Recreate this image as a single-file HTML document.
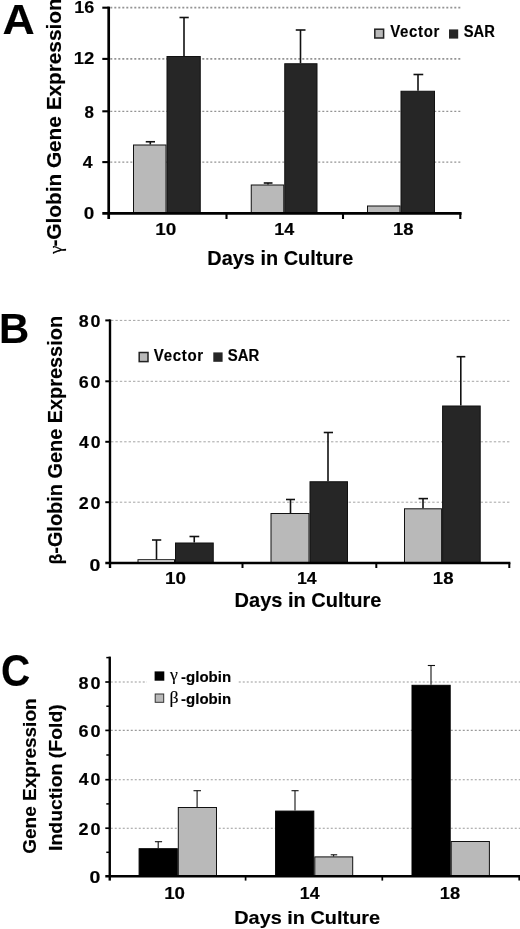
<!DOCTYPE html>
<html><head><meta charset="utf-8"><title>Globin gene expression</title>
<style>html,body{margin:0;padding:0;background:#fff}svg{display:block}text{white-space:pre;stroke:#000;stroke-width:0.15px;stroke-linejoin:round}</style></head>
<body><svg width="520" height="929" viewBox="0 0 520 929">
<rect width="520" height="929" fill="#fff"/>
<line x1="110.30" y1="162.10" x2="461.30" y2="162.10" stroke="#949494" stroke-width="1.3" stroke-dasharray="2 2"/>
<line x1="110.30" y1="111.30" x2="461.30" y2="111.30" stroke="#949494" stroke-width="1.3" stroke-dasharray="2 2"/>
<line x1="110.30" y1="58.90" x2="461.30" y2="58.90" stroke="#949494" stroke-width="1.8" stroke-dasharray="2 2"/>
<line x1="110.30" y1="7.70" x2="461.30" y2="7.70" stroke="#949494" stroke-width="1.8" stroke-dasharray="2 2"/>
<rect x="133.50" y="145.00" width="32.50" height="68.30" fill="#b9b9b9" stroke="#111" stroke-width="1"/>
<rect x="167.00" y="56.50" width="33.25" height="156.80" fill="#262626" stroke="#111" stroke-width="1"/>
<rect x="251.25" y="185.00" width="32.50" height="28.30" fill="#b9b9b9" stroke="#111" stroke-width="1"/>
<rect x="284.75" y="63.75" width="32.25" height="149.55" fill="#262626" stroke="#111" stroke-width="1"/>
<rect x="367.50" y="206.00" width="32.50" height="7.30" fill="#b9b9b9" stroke="#111" stroke-width="1"/>
<rect x="401.00" y="91.25" width="33.50" height="122.05" fill="#262626" stroke="#111" stroke-width="1"/>
<line x1="150.30" y1="141.75" x2="150.30" y2="144.50" stroke="#111" stroke-width="1.6" />
<line x1="145.75" y1="141.75" x2="155.00" y2="141.75" stroke="#111" stroke-width="1.6" />
<line x1="184.00" y1="17.50" x2="184.00" y2="56.00" stroke="#111" stroke-width="1.6" />
<line x1="179.50" y1="17.50" x2="188.75" y2="17.50" stroke="#111" stroke-width="1.6" />
<line x1="268.00" y1="183.00" x2="268.00" y2="184.50" stroke="#111" stroke-width="1.6" />
<line x1="263.75" y1="183.00" x2="272.50" y2="183.00" stroke="#111" stroke-width="1.6" />
<line x1="300.50" y1="30.00" x2="300.50" y2="63.25" stroke="#111" stroke-width="1.6" />
<line x1="295.75" y1="30.00" x2="305.50" y2="30.00" stroke="#111" stroke-width="1.6" />
<line x1="418.00" y1="74.50" x2="418.00" y2="90.75" stroke="#111" stroke-width="1.6" />
<line x1="413.50" y1="74.50" x2="423.25" y2="74.50" stroke="#111" stroke-width="1.6" />
<line x1="108.70" y1="6.60" x2="108.70" y2="219.00" stroke="#000" stroke-width="2.7" />
<line x1="102.30" y1="213.30" x2="461.60" y2="213.30" stroke="#000" stroke-width="2.7" />
<line x1="102.30" y1="162.10" x2="108.70" y2="162.10" stroke="#000" stroke-width="2.1" />
<line x1="102.30" y1="111.30" x2="108.70" y2="111.30" stroke="#000" stroke-width="2.1" />
<line x1="102.30" y1="58.90" x2="108.70" y2="58.90" stroke="#000" stroke-width="2.1" />
<line x1="102.30" y1="7.70" x2="108.70" y2="7.70" stroke="#000" stroke-width="2.1" />
<line x1="226.50" y1="213.30" x2="226.50" y2="219.00" stroke="#000" stroke-width="2.1" />
<line x1="343.00" y1="213.30" x2="343.00" y2="219.00" stroke="#000" stroke-width="2.1" />
<line x1="460.30" y1="213.30" x2="460.30" y2="219.00" stroke="#000" stroke-width="2.1" />
<text transform="translate(2.48 33.60) scale(1.0333 1)" font-size="43.19" font-family="Liberation Sans, sans-serif" font-weight="bold" fill="#000">A</text>
<text transform="translate(74.13 12.89) scale(1.0935 1)" font-size="16.48" font-family="Liberation Sans, sans-serif" font-weight="bold" fill="#000">16</text>
<text transform="translate(73.70 64.35) scale(1.1073 1)" font-size="16.71" font-family="Liberation Sans, sans-serif" font-weight="bold" fill="#000">12</text>
<text transform="translate(84.59 117.79) scale(1.0298 1)" font-size="16.48" font-family="Liberation Sans, sans-serif" font-weight="bold" fill="#000">8</text>
<text transform="translate(82.73 167.90) scale(1.0472 1)" font-size="16.96" font-family="Liberation Sans, sans-serif" font-weight="bold" fill="#000">4</text>
<text transform="translate(83.74 218.59) scale(1.1498 1)" font-size="16.48" font-family="Liberation Sans, sans-serif" font-weight="bold" fill="#000">0</text>
<text transform="translate(155.16 235.04) scale(1.1632 1)" font-size="16.34" font-family="Liberation Sans, sans-serif" font-weight="bold" fill="#000">10</text>
<text transform="translate(274.23 235.20) scale(1.0695 1)" font-size="16.81" font-family="Liberation Sans, sans-serif" font-weight="bold" fill="#000">14</text>
<text transform="translate(392.90 235.04) scale(1.1337 1)" font-size="16.34" font-family="Liberation Sans, sans-serif" font-weight="bold" fill="#000">18</text>
<text transform="translate(207.31 264.60) scale(1.0267 1)" font-size="19.40" font-family="Liberation Sans, sans-serif" font-weight="bold" fill="#000">Days in Culture</text>
<text transform="translate(60.70 253.90) rotate(-90) scale(1.0240 1)" fill="#000"><tspan font-family="Liberation Serif, serif" font-size="18.50" dx="0.00" dy="1.40" font-weight="normal">γ</tspan><tspan font-family="Liberation Sans, sans-serif" font-weight="bold" font-size="20.30" dx="-1.00" dy="-1.40">-Globin Gene Expression</tspan></text>
<rect x="374.80" y="29.20" width="8.80" height="8.80" fill="#b9b9b9" stroke="#222" stroke-width="1.5"/>
<rect x="449.00" y="29.40" width="9.20" height="9.20" fill="#262626"/>
<text transform="translate(390.25 37.10) scale(0.9617 1)" font-size="15.60" letter-spacing="0.7" font-family="Liberation Sans, sans-serif" font-weight="bold" fill="#000">Vector</text>
<text transform="translate(463.66 37.10) scale(0.9460 1)" font-size="15.60" font-family="Liberation Sans, sans-serif" font-weight="bold" fill="#000">SAR</text>
<line x1="111.00" y1="502.20" x2="510.00" y2="502.20" stroke="#a4a4a4" stroke-width="1" stroke-dasharray="2.4 2"/>
<line x1="111.00" y1="441.80" x2="510.00" y2="441.80" stroke="#a4a4a4" stroke-width="1" stroke-dasharray="2.4 2"/>
<line x1="111.00" y1="381.30" x2="510.00" y2="381.30" stroke="#a4a4a4" stroke-width="1" stroke-dasharray="2.4 2"/>
<line x1="111.00" y1="320.40" x2="510.00" y2="320.40" stroke="#a4a4a4" stroke-width="1" stroke-dasharray="2.4 2"/>
<rect x="138.00" y="559.70" width="36.50" height="3.40" fill="#f4f4f4" stroke="#111" stroke-width="1"/>
<rect x="175.50" y="543.00" width="37.75" height="20.10" fill="#262626" stroke="#111" stroke-width="1"/>
<rect x="271.00" y="513.50" width="38.00" height="49.60" fill="#b9b9b9" stroke="#111" stroke-width="1"/>
<rect x="310.00" y="481.75" width="37.50" height="81.35" fill="#262626" stroke="#111" stroke-width="1"/>
<rect x="404.50" y="508.80" width="37.10" height="54.30" fill="#b9b9b9" stroke="#111" stroke-width="1"/>
<rect x="442.60" y="406.00" width="37.60" height="157.10" fill="#262626" stroke="#111" stroke-width="1"/>
<line x1="156.50" y1="540.00" x2="156.50" y2="559.50" stroke="#111" stroke-width="1.6" />
<line x1="152.00" y1="540.00" x2="161.25" y2="540.00" stroke="#111" stroke-width="1.6" />
<line x1="194.25" y1="536.50" x2="194.25" y2="542.50" stroke="#111" stroke-width="1.6" />
<line x1="189.50" y1="536.50" x2="199.25" y2="536.50" stroke="#111" stroke-width="1.6" />
<line x1="290.50" y1="499.50" x2="290.50" y2="513.00" stroke="#111" stroke-width="1.6" />
<line x1="286.00" y1="499.50" x2="295.00" y2="499.50" stroke="#111" stroke-width="1.6" />
<line x1="328.00" y1="432.50" x2="328.00" y2="481.25" stroke="#111" stroke-width="1.6" />
<line x1="323.75" y1="432.50" x2="333.00" y2="432.50" stroke="#111" stroke-width="1.6" />
<line x1="423.00" y1="498.60" x2="423.00" y2="508.30" stroke="#111" stroke-width="1.6" />
<line x1="418.60" y1="498.60" x2="428.00" y2="498.60" stroke="#111" stroke-width="1.6" />
<line x1="460.80" y1="356.70" x2="460.80" y2="405.50" stroke="#111" stroke-width="1.6" />
<line x1="456.60" y1="356.70" x2="465.30" y2="356.70" stroke="#111" stroke-width="1.6" />
<line x1="110.00" y1="319.40" x2="110.00" y2="568.00" stroke="#000" stroke-width="2.4" />
<line x1="105.30" y1="563.10" x2="510.40" y2="563.10" stroke="#000" stroke-width="2.5" />
<line x1="105.30" y1="502.20" x2="110.00" y2="502.20" stroke="#000" stroke-width="2.0" />
<line x1="105.30" y1="441.80" x2="110.00" y2="441.80" stroke="#000" stroke-width="2.0" />
<line x1="105.30" y1="381.30" x2="110.00" y2="381.30" stroke="#000" stroke-width="2.0" />
<line x1="105.30" y1="320.40" x2="110.00" y2="320.40" stroke="#000" stroke-width="2.0" />
<line x1="242.50" y1="563.10" x2="242.50" y2="568.00" stroke="#000" stroke-width="2.0" />
<line x1="376.30" y1="563.10" x2="376.30" y2="568.00" stroke="#000" stroke-width="2.0" />
<line x1="509.30" y1="563.10" x2="509.30" y2="568.00" stroke="#000" stroke-width="2.0" />
<text transform="translate(-1.02 342.90) scale(0.9811 1)" font-size="42.61" font-family="Liberation Sans, sans-serif" font-weight="bold" fill="#000">B</text>
<text transform="translate(78.76 326.88) scale(1.0294 1)" font-size="17.32" letter-spacing="1.8" font-family="Liberation Sans, sans-serif" font-weight="bold" fill="#000">80</text>
<text transform="translate(78.67 387.78) scale(1.0339 1)" font-size="17.32" letter-spacing="1.8" font-family="Liberation Sans, sans-serif" font-weight="bold" fill="#000">60</text>
<text transform="translate(79.04 448.28) scale(1.0161 1)" font-size="17.32" letter-spacing="1.8" font-family="Liberation Sans, sans-serif" font-weight="bold" fill="#000">40</text>
<text transform="translate(78.67 508.68) scale(1.0339 1)" font-size="17.32" letter-spacing="1.8" font-family="Liberation Sans, sans-serif" font-weight="bold" fill="#000">20</text>
<text transform="translate(89.62 570.78) scale(1.1302 1)" font-size="17.32" letter-spacing="1.8" font-family="Liberation Sans, sans-serif" font-weight="bold" fill="#000">0</text>
<text transform="translate(164.97 584.04) scale(1.1879 1)" font-size="15.92" font-family="Liberation Sans, sans-serif" font-weight="bold" fill="#000">10</text>
<text transform="translate(296.94 584.20) scale(1.0862 1)" font-size="16.38" font-family="Liberation Sans, sans-serif" font-weight="bold" fill="#000">14</text>
<text transform="translate(432.79 584.04) scale(1.1700 1)" font-size="15.92" font-family="Liberation Sans, sans-serif" font-weight="bold" fill="#000">18</text>
<text transform="translate(234.60 607.00) scale(1.0271 1)" font-size="19.50" font-family="Liberation Sans, sans-serif" font-weight="bold" fill="#000">Days in Culture</text>
<text transform="translate(61.90 564.60) rotate(-90) scale(1.0060 1)" fill="#000"><tspan font-family="Liberation Sans, sans-serif" font-weight="bold" font-size="17.60" dx="0.00" dy="0.20">β</tspan><tspan font-family="Liberation Sans, sans-serif" font-weight="bold" font-size="19.80" dx="0.06" dy="-0.20">-Globin Gene Expression</tspan></text>
<rect x="139.20" y="352.50" width="8.80" height="9.10" fill="#b9b9b9" stroke="#222" stroke-width="1.5"/>
<rect x="213.30" y="352.40" width="9.30" height="9.40" fill="#262626"/>
<text transform="translate(153.85 360.90) scale(0.9637 1)" font-size="15.60" letter-spacing="0.7" font-family="Liberation Sans, sans-serif" font-weight="bold" fill="#000">Vector</text>
<text transform="translate(227.75 360.90) scale(0.9584 1)" font-size="15.60" font-family="Liberation Sans, sans-serif" font-weight="bold" fill="#000">SAR</text>
<line x1="110.75" y1="828.20" x2="520.00" y2="828.20" stroke="#9a9a9a" stroke-width="1.1" stroke-dasharray="2 2"/>
<line x1="110.75" y1="779.70" x2="520.00" y2="779.70" stroke="#9a9a9a" stroke-width="1.1" stroke-dasharray="2 2"/>
<line x1="110.75" y1="730.40" x2="520.00" y2="730.40" stroke="#9a9a9a" stroke-width="1.1" stroke-dasharray="2 2"/>
<line x1="110.75" y1="682.00" x2="520.00" y2="682.00" stroke="#9a9a9a" stroke-width="1.1" stroke-dasharray="2 2"/>
<rect x="147.00" y="664.00" width="90.00" height="48.00" fill="#fff"/>
<rect x="139.10" y="848.70" width="38.20" height="27.60" fill="#000" stroke="#000" stroke-width="1"/>
<rect x="178.30" y="807.50" width="38.20" height="68.80" fill="#b9b9b9" stroke="#111" stroke-width="1"/>
<rect x="275.60" y="811.10" width="38.20" height="65.20" fill="#000" stroke="#000" stroke-width="1"/>
<rect x="314.80" y="856.90" width="37.90" height="19.40" fill="#b9b9b9" stroke="#111" stroke-width="1"/>
<rect x="412.00" y="685.30" width="38.20" height="191.00" fill="#000" stroke="#000" stroke-width="1"/>
<rect x="451.20" y="841.50" width="38.20" height="34.80" fill="#b9b9b9" stroke="#111" stroke-width="1"/>
<line x1="158.20" y1="841.70" x2="158.20" y2="848.20" stroke="#111" stroke-width="1.1" />
<line x1="154.90" y1="841.70" x2="162.10" y2="841.70" stroke="#111" stroke-width="1.1" />
<line x1="197.10" y1="790.70" x2="197.10" y2="807.00" stroke="#111" stroke-width="1.1" />
<line x1="193.50" y1="790.70" x2="201.00" y2="790.70" stroke="#111" stroke-width="1.1" />
<line x1="295.00" y1="790.70" x2="295.00" y2="810.60" stroke="#111" stroke-width="1.1" />
<line x1="291.50" y1="790.70" x2="298.60" y2="790.70" stroke="#111" stroke-width="1.1" />
<line x1="333.60" y1="854.80" x2="333.60" y2="856.40" stroke="#111" stroke-width="1.1" />
<line x1="330.70" y1="854.80" x2="337.20" y2="854.80" stroke="#111" stroke-width="1.1" />
<line x1="431.00" y1="665.50" x2="431.00" y2="684.80" stroke="#111" stroke-width="1.1" />
<line x1="427.80" y1="665.50" x2="435.00" y2="665.50" stroke="#111" stroke-width="1.1" />
<line x1="109.75" y1="656.60" x2="109.75" y2="880.60" stroke="#000" stroke-width="2.4" />
<line x1="105.30" y1="876.30" x2="520.00" y2="876.30" stroke="#000" stroke-width="2.4" />
<line x1="106.30" y1="852.30" x2="109.75" y2="852.30" stroke="#000" stroke-width="1.5" />
<line x1="105.30" y1="828.20" x2="109.75" y2="828.20" stroke="#000" stroke-width="1.7" />
<line x1="106.30" y1="803.90" x2="109.75" y2="803.90" stroke="#000" stroke-width="1.5" />
<line x1="105.30" y1="779.70" x2="109.75" y2="779.70" stroke="#000" stroke-width="1.7" />
<line x1="106.30" y1="755.00" x2="109.75" y2="755.00" stroke="#000" stroke-width="1.5" />
<line x1="105.30" y1="730.40" x2="109.75" y2="730.40" stroke="#000" stroke-width="1.7" />
<line x1="106.30" y1="706.20" x2="109.75" y2="706.20" stroke="#000" stroke-width="1.5" />
<line x1="105.30" y1="682.00" x2="109.75" y2="682.00" stroke="#000" stroke-width="1.7" />
<line x1="106.30" y1="657.60" x2="109.75" y2="657.60" stroke="#000" stroke-width="1.5" />
<line x1="245.60" y1="876.30" x2="245.60" y2="880.60" stroke="#000" stroke-width="1.7" />
<line x1="382.30" y1="876.30" x2="382.30" y2="880.60" stroke="#000" stroke-width="1.7" />
<line x1="519.20" y1="876.30" x2="519.20" y2="880.60" stroke="#000" stroke-width="1.7" />
<text transform="translate(0.98 685.86) scale(0.9177 1)" font-size="44.08" font-family="Liberation Sans, sans-serif" font-weight="bold" fill="#000">C</text>
<text transform="translate(78.56 688.58) scale(1.0395 1)" font-size="17.32" letter-spacing="1.8" font-family="Liberation Sans, sans-serif" font-weight="bold" fill="#000">80</text>
<text transform="translate(78.47 736.98) scale(1.0441 1)" font-size="17.32" letter-spacing="1.8" font-family="Liberation Sans, sans-serif" font-weight="bold" fill="#000">60</text>
<text transform="translate(78.83 785.08) scale(1.0261 1)" font-size="17.32" letter-spacing="1.8" font-family="Liberation Sans, sans-serif" font-weight="bold" fill="#000">40</text>
<text transform="translate(78.47 834.78) scale(1.0441 1)" font-size="17.32" letter-spacing="1.8" font-family="Liberation Sans, sans-serif" font-weight="bold" fill="#000">20</text>
<text transform="translate(89.62 882.88) scale(1.1302 1)" font-size="17.32" letter-spacing="1.8" font-family="Liberation Sans, sans-serif" font-weight="bold" fill="#000">0</text>
<text transform="translate(164.18 899.04) scale(1.1754 1)" font-size="15.92" font-family="Liberation Sans, sans-serif" font-weight="bold" fill="#000">10</text>
<text transform="translate(299.84 899.20) scale(1.0862 1)" font-size="16.38" font-family="Liberation Sans, sans-serif" font-weight="bold" fill="#000">14</text>
<text transform="translate(439.81 899.04) scale(1.1514 1)" font-size="15.92" font-family="Liberation Sans, sans-serif" font-weight="bold" fill="#000">18</text>
<text transform="translate(234.21 923.90) scale(1.0366 1)" font-size="19.20" font-family="Liberation Sans, sans-serif" font-weight="bold" fill="#000">Days in Culture</text>
<text transform="translate(36.10 853.76) rotate(-90) scale(1.0071 1)" font-size="18.90" font-family="Liberation Sans, sans-serif" font-weight="bold" fill="#000">Gene Expression</text>
<text transform="translate(61.80 850.96) rotate(-90) scale(1.0283 1)" font-size="18.90" font-family="Liberation Sans, sans-serif" font-weight="bold" fill="#000">Induction (Fold)</text>
<rect x="154.60" y="671.40" width="9.70" height="9.30" fill="#000"/>
<rect x="155.20" y="694.00" width="8.50" height="8.30" fill="#b9b9b9" stroke="#333" stroke-width="1"/>
<text transform="translate(169.90 681.68) scale(1.0800 1)" fill="#000"><tspan font-family="Liberation Serif, serif" font-size="16.50" dx="0.00" dy="-1.20" font-weight="normal">γ</tspan><tspan font-family="Liberation Sans, sans-serif" font-weight="bold" font-size="13.90" dx="3.08" dy="1.20">-globin</tspan></text>
<text transform="translate(169.40 703.68) scale(1.0800 1)" fill="#000"><tspan font-family="Liberation Serif, serif" font-size="16.50" dx="0.00" dy="-1.00" font-weight="normal">β</tspan><tspan font-family="Liberation Sans, sans-serif" font-weight="bold" font-size="13.90" dx="2.44" dy="1.00">-globin</tspan></text>
</svg></body></html>
